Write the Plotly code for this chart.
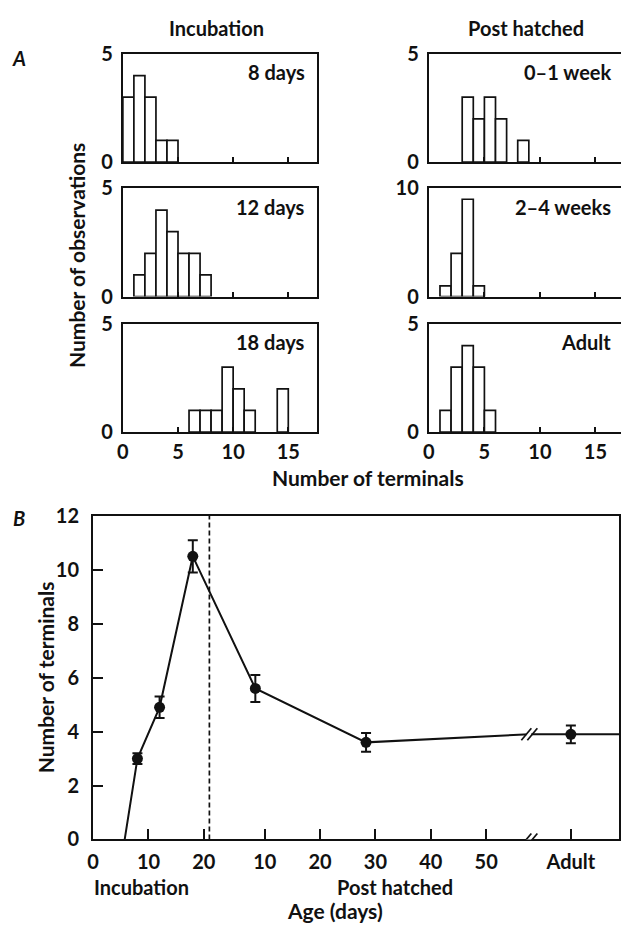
import plotly.graph_objects as go

W, H = 621, 944

# ---------------- Panel A data: counts per 1-terminal bin, bin k spans [k, k+1)
bins_8d = [3, 4, 3, 1, 1]
bins_12d = [0, 1, 2, 4, 3, 2, 2, 1]
bins_18d = [0, 0, 0, 0, 0, 0, 1, 1, 1, 3, 2, 1, 0, 0, 2]
bins_0_1w = [0, 0, 0, 3, 2, 3, 2, 0, 1]
bins_2_4w = [0, 1, 4, 9, 1]
bins_adult = [0, 1, 3, 4, 3, 1]

hist_data = [bins_8d, bins_12d, bins_18d, bins_0_1w, bins_2_4w, bins_adult]
panel_labels = ["8 days", "12 days", "18 days", "0–1 week", "2–4 weeks", "Adult"]
panel_ymax = [5, 5, 5, 5, 10, 5]
hist_xticks = [0, 5, 10, 15]
column_titles = ["Incubation", "Post hatched"]

# ---------------- Panel B data
inc_days = [8, 12, 18]
inc_mean = [3.0, 4.9, 10.5]
inc_sem = [0.2, 0.4, 0.6]
post_days = [8.3, 28.3]
post_mean = [5.6, 3.6]
post_sem = [0.5, 0.35]
adult_mean = 3.9
adult_sem = 0.33
line_origin_day = 5.7      # incubation day where the line meets zero
hatch_day = 21             # incubation length; post-hatch days are offset by it
break_post_day = 57.8
adult_post_day = 65.3
axis_end_post_day = 74
b_xtick_inc = [0, 10, 20]
b_xtick_post = [10, 20, 30, 40, 50]
b_yticks = [0, 2, 4, 6, 8, 10, 12]

FONT = "Lato"
BLACK = "#111111"
TICK_SIZE = 20
TEXT_SIZE = 20
TITLE_SIZE = 21


def px_x(p):
    return p / W


def px_y(p):
    return 1 - p / H


def sfx(n):
    return "" if n == 1 else str(n)


def label(text, x, y, size=TEXT_SIZE, angle=0, **font):
    return dict(text=text, x=px_x(x), y=px_y(y), xref="paper", yref="paper",
                xanchor="center", yanchor="middle", showarrow=False,
                textangle=angle, font=dict(size=size, **font))


fig = go.Figure()

col_dom = [[px_x(118), px_x(314)], [px_x(427), 1.0]]
col_xmax = [17.6, 17.3]
row_dom = [[px_y(153), px_y(42)], [px_y(291), px_y(180)], [px_y(430), px_y(319)]]

layout = dict(
    width=W, height=H, margin=dict(l=0, r=0, t=0, b=0),
    paper_bgcolor="white", plot_bgcolor="white", showlegend=False,
    font=dict(family=FONT, size=TEXT_SIZE, color=BLACK, weight="bold"),
)
annotations = []
shapes = []

for i, counts in enumerate(hist_data):
    col, row = divmod(i, 3)
    n = i + 1
    s = sfx(n)
    xs = [k + 0.5 for k, c in enumerate(counts) if c > 0]
    ys = [c for c in counts if c > 0]
    fig.add_trace(go.Bar(
        x=xs, y=ys, width=1, xaxis=f"x{s}", yaxis=f"y{s}",
        marker=dict(color="white", line=dict(color=BLACK, width=1.7)),
        hoverinfo="skip",
    ))
    layout[f"xaxis{s}"] = dict(
        domain=col_dom[col], range=[0, col_xmax[col]], anchor=f"y{s}",
        showline=True, linecolor=BLACK, linewidth=2.2, mirror=True,
        ticks="inside", ticklen=5, tickwidth=2, tickcolor=BLACK,
        tickvals=hist_xticks, showticklabels=(row == 2),
        tickfont=dict(size=TICK_SIZE), showgrid=False, zeroline=False,
        ticklabelstandoff=1,
    )
    layout[f"yaxis{s}"] = dict(
        domain=row_dom[row], range=[0, panel_ymax[i]], anchor=f"x{s}",
        showline=True, linecolor=BLACK, linewidth=2.2, mirror=(col == 0),
        ticks="", tickvals=[0, panel_ymax[i]], tickfont=dict(size=TICK_SIZE),
        showgrid=False, zeroline=False, ticklabelstandoff=4,
    )
    annotations.append(dict(
        text=panel_labels[i], xref=f"x{s} domain", yref=f"y{s} domain",
        x=0.95 if col == 0 else 0.96, y=0.83, xanchor="right", yanchor="middle",
        showarrow=False, font=dict(size=TEXT_SIZE),
    ))

annotations += [
    label(column_titles[0], 213, 15),
    label(column_titles[1], 525, 15),
    label("A", 13, 46, size=20, style="italic"),
    label("Number of observations", 71, 249, size=TITLE_SIZE, angle=-90),
    label("Number of terminals", 366, 477, size=TITLE_SIZE),
]

# ---------------- Panel B
break_u = hatch_day + break_post_day
adult_u = hatch_day + adult_post_day
end_u = hatch_day + axis_end_post_day
post_u = [hatch_day + d for d in post_days]

line_x = [line_origin_day] + inc_days + post_u + [break_u, adult_u, end_u]
line_y = [0] + inc_mean + post_mean + [adult_mean, adult_mean, adult_mean]
fig.add_trace(go.Scatter(
    x=line_x, y=line_y, mode="lines", xaxis="x7", yaxis="y7",
    line=dict(color=BLACK, width=2), hoverinfo="skip",
))
fig.add_trace(go.Scatter(
    x=inc_days + post_u + [adult_u], y=inc_mean + post_mean + [adult_mean],
    mode="markers", xaxis="x7", yaxis="y7",
    marker=dict(color=BLACK, size=11, symbol="circle"),
    error_y=dict(type="data", array=inc_sem + post_sem + [adult_sem],
                 color=BLACK, thickness=2, width=5),
    hoverinfo="skip",
))

b_tickvals = b_xtick_inc + [hatch_day + d for d in b_xtick_post] + [adult_u]
b_ticktext = [str(v) for v in b_xtick_inc] + [str(v) for v in b_xtick_post] + ["Adult"]

layout["xaxis7"] = dict(
    domain=[px_x(88), px_x(619)], range=[0, end_u], anchor="y7",
    showline=True, linecolor=BLACK, linewidth=2.2, mirror=True,
    ticks="inside", ticklen=10, tickwidth=2, tickcolor=BLACK,
    tickvals=b_tickvals, ticktext=b_ticktext, tickfont=dict(size=TICK_SIZE),
    showgrid=False, zeroline=False, ticklabelstandoff=3,
)
layout["yaxis7"] = dict(
    domain=[px_y(848), px_y(516)], range=[0, 12], anchor="x7",
    showline=True, linecolor=BLACK, linewidth=2.2, mirror=True,
    ticks="inside", ticklen=10, tickwidth=2, tickcolor=BLACK,
    tickvals=b_yticks, tickfont=dict(size=TICK_SIZE),
    showgrid=False, zeroline=False, ticklabelstandoff=8,
)

shapes.append(dict(type="line", xref="x7", yref="y7", x0=hatch_day, x1=hatch_day,
                   y0=0, y1=12, line=dict(color=BLACK, width=1.7, dash="5px,3px")))
for yb in [0, adult_mean]:
    shapes.append(dict(type="rect", xref="x7", yref="y7", xsizemode="pixel",
                       ysizemode="pixel", xanchor=break_u, yanchor=yb,
                       x0=-3, x1=2, y0=-2, y1=2, fillcolor="white", line=dict(width=0)))
    for dx in (-3, 3):
        shapes.append(dict(type="line", xref="x7", yref="y7", xsizemode="pixel",
                           ysizemode="pixel", xanchor=break_u, yanchor=yb,
                           x0=dx - 5, x1=dx + 5, y0=-6, y1=6,
                           line=dict(color=BLACK, width=1.7)))

annotations += [
    label("B", 13, 518, size=20, style="italic"),
    label("Number of terminals", 40, 682, size=TITLE_SIZE, angle=-90),
    label("Incubation", 137, 897),
    label("Post hatched", 393, 897),
    label("Age (days)", 332, 921, size=TITLE_SIZE),
]

layout["annotations"] = annotations
layout["shapes"] = shapes
fig.update_layout(**layout)
fig.write_html("out.html")
